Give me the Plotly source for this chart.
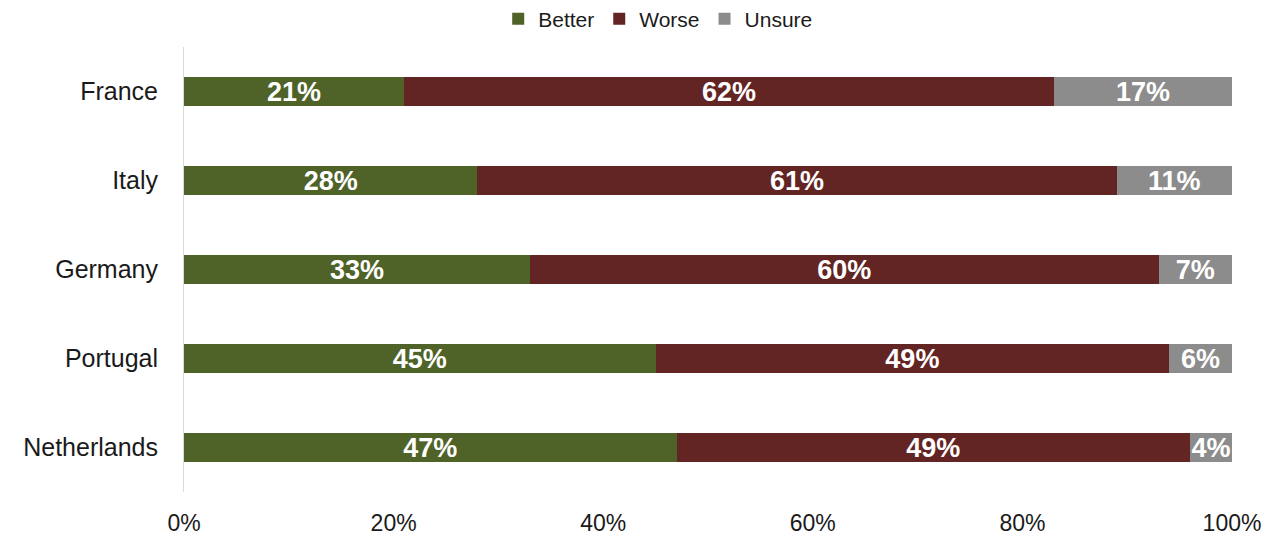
import plotly.graph_objects as go

countries = ["France", "Italy", "Germany", "Portugal", "Netherlands"]
better = [21, 28, 33, 45, 47]
worse = [62, 61, 60, 49, 49]
unsure = [17, 11, 7, 6, 4]
x_ticks = [0, 20, 40, 60, 80, 100]
x_tick_labels = ["0%", "20%", "40%", "60%", "80%", "100%"]

series = [
    ("Better", better, "#4F6228"),
    ("Worse", worse, "#632523"),
    ("Unsure", unsure, "#8C8C8C"),
]

FONT = "Liberation Sans, Arial, sans-serif"

fig = go.Figure()
for name, vals, color in series:
    fig.add_trace(go.Bar(
        name=name,
        y=countries,
        x=vals,
        orientation="h",
        marker=dict(color=color, line=dict(width=0)),
        width=0.315,
        text=[f"{v}%" for v in vals],
        textposition="inside",
        insidetextanchor="middle",
        textangle=0,
        textfont=dict(color="white", size=27, family=FONT, weight="bold"),
        hoverinfo="skip",
    ))

fig.update_layout(
    barmode="stack",
    width=1265,
    height=529,
    margin=dict(l=176, r=41, t=39, b=45, autoexpand=False),
    paper_bgcolor="white",
    plot_bgcolor="white",
    uniformtext=dict(minsize=24, mode="show"),
    font=dict(family=FONT, color="#1a1a1a", size=22),
    legend=dict(
        orientation="h",
        x=0.514, xanchor="center",
        y=0.979, yanchor="middle",
        xref="container",
        yref="container",
        font=dict(size=21, family=FONT),
        traceorder="normal",
        itemwidth=30,
        bgcolor="rgba(0,0,0,0)",
    ),
    xaxis=dict(
        range=[0, 100],
        tickvals=x_ticks,
        ticktext=x_tick_labels,
        showgrid=False,
        zeroline=False,
        showline=False,
        ticks="",
        tickfont=dict(size=23, family=FONT),
        ticklabelstandoff=15,
    ),
    yaxis=dict(
        categoryorder="array",
        categoryarray=countries[::-1],
        showgrid=False,
        zeroline=False,
        showline=True,
        linecolor="#D9D9D9",
        linewidth=1,
        ticks="",
        tickfont=dict(size=25, family=FONT),
        ticklabelstandoff=20,
    ),
)

fig.write_html("out.html")
